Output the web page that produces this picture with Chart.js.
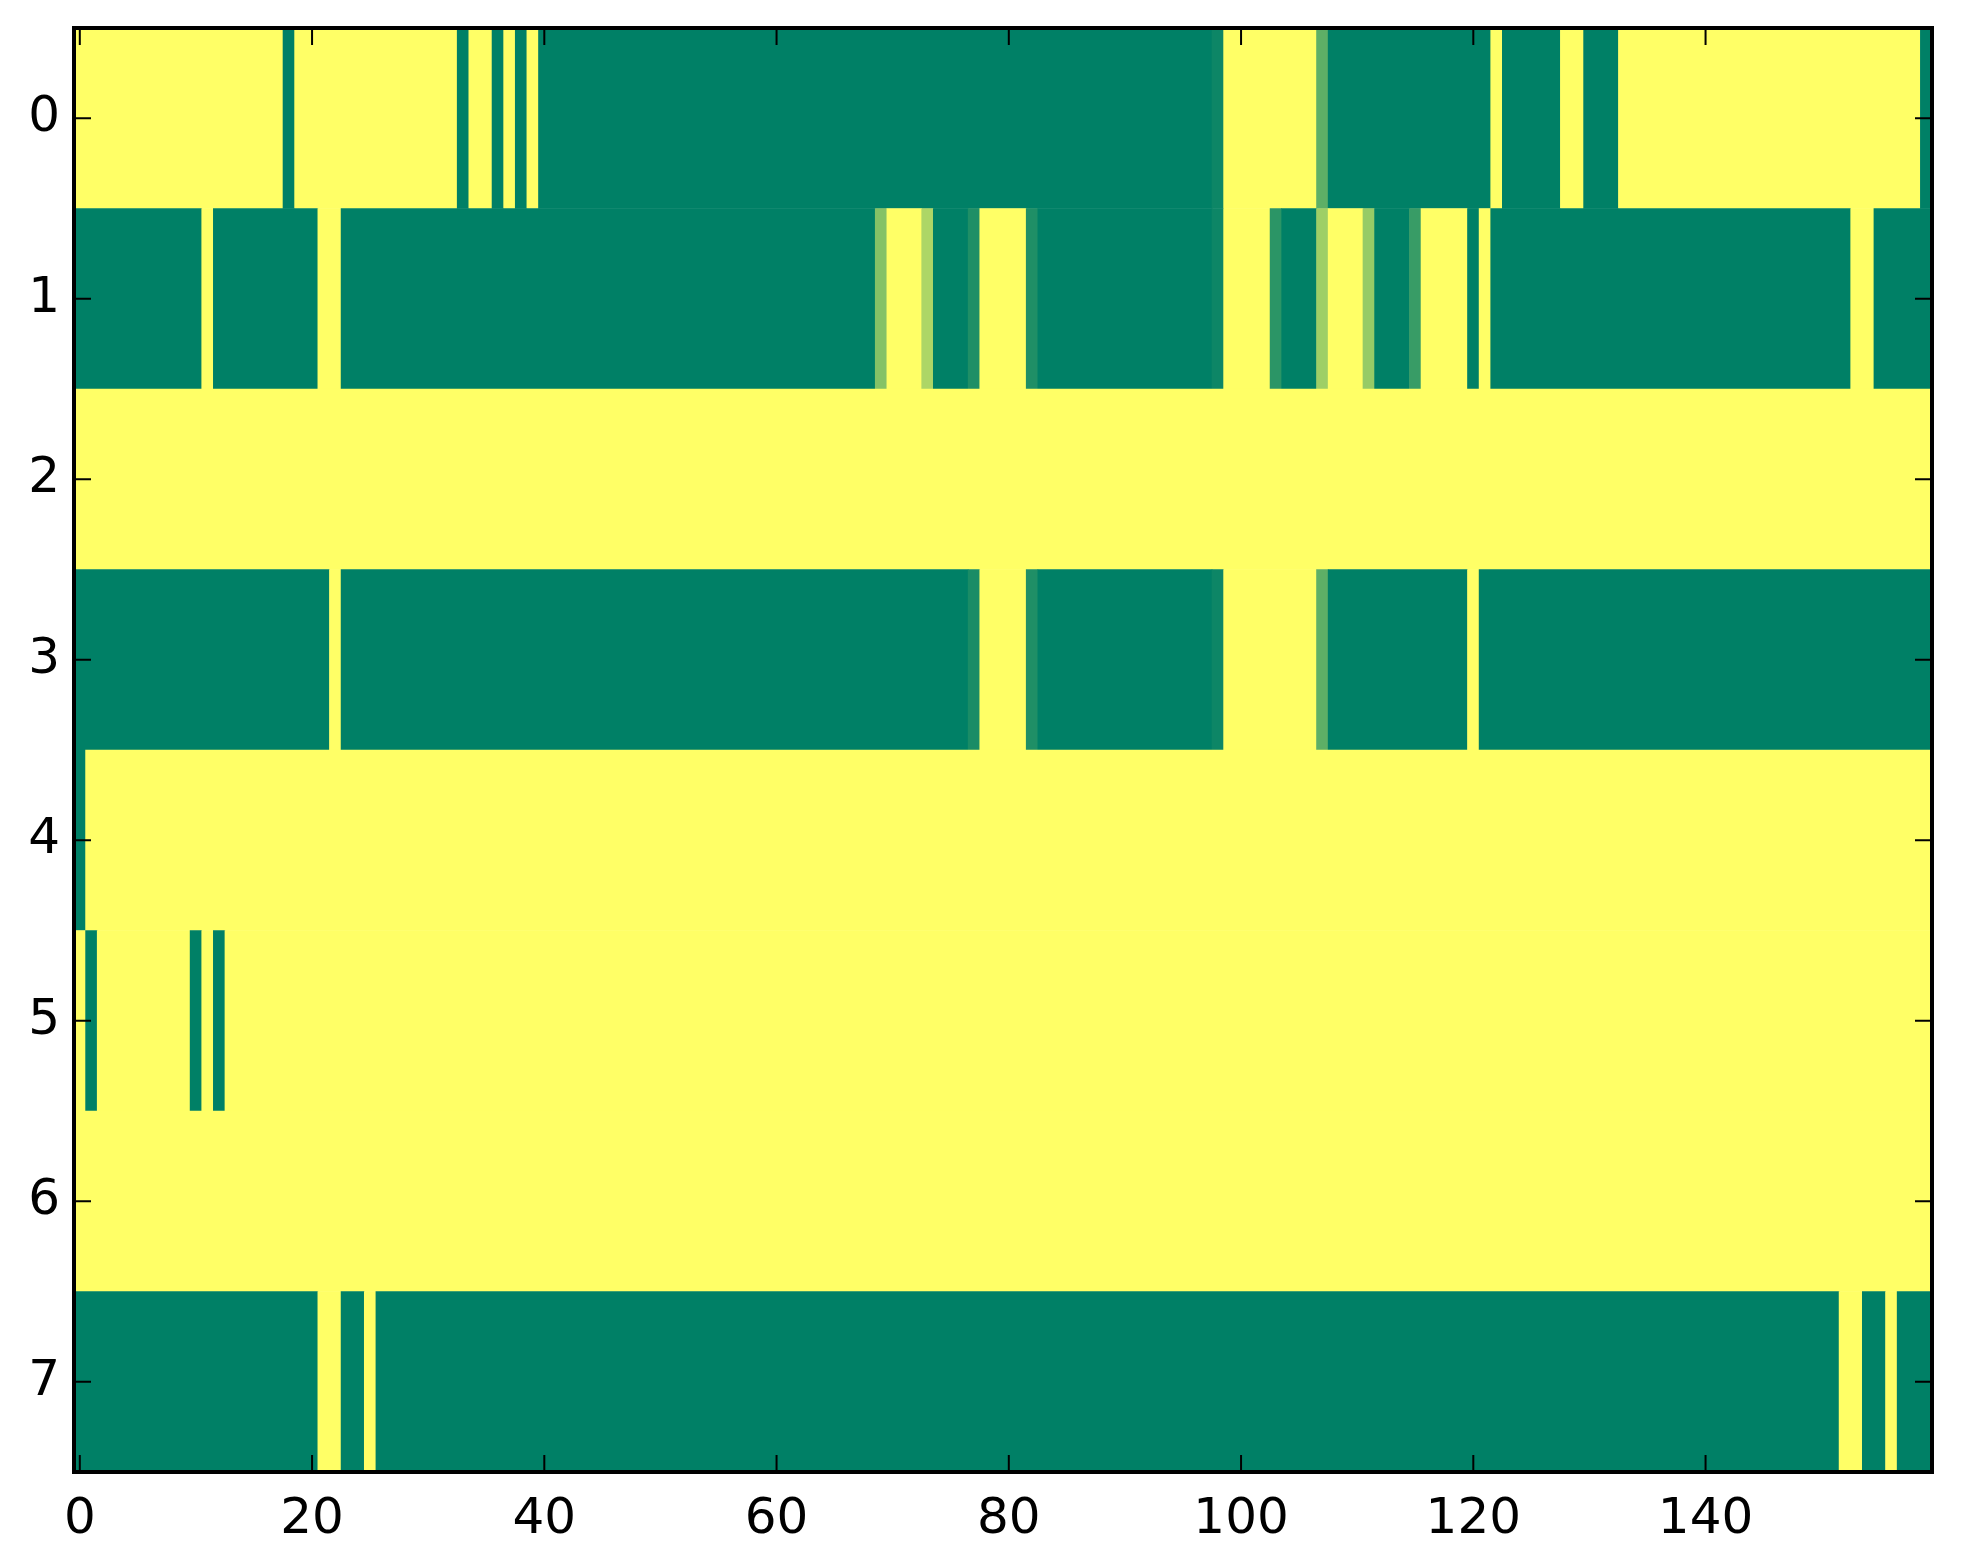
<!DOCTYPE html>
<html>
<head>
<meta charset="utf-8">
<script src="https://cdn.jsdelivr.net/npm/chart.js@4.4.1/dist/chart.umd.min.js"></script>
<style>
  html, body { margin: 0; padding: 0; background: #fff; }
  #wrap { width: 1963px; height: 1564px; }
</style>
</head>
<body>
<div id="wrap"><canvas id="heat"></canvas></div>
<script>
const rowLabels = ['0', '1', '2', '3', '4', '5', '6', '7'];
const xTicks = [0, 20, 40, 60, 80, 100, 120, 140];

// one array per row, 160 columns, 0 = green .. 1 = yellow
const row0 = [
  1,1,1,1,1,1,1,1,1,1,1,1,1,1,1,1,1,1,0,1,
  1,1,1,1,1,1,1,1,1,1,1,1,1,0,1,1,0,1,0,1,
  0,0,0,0,0,0,0,0,0,0,0,0,0,0,0,0,0,0,0,0,
  0,0,0,0,0,0,0,0,0,0,0,0,0,0,0,0,0,0,0,0,
  0,0,0,0,0,0,0,0,0,0,0,0,0,0,0,0,0,0,0.05,1,
  1,1,1,1,1,1,1,0.37,0,0,0,0,0,0,0,0,0,0,0,0,
  0,0,1,0,0,0,0,0,1,1,0,0,0,1,1,1,1,1,1,1,
  1,1,1,1,1,1,1,1,1,1,1,1,1,1,1,1,1,1,1,0
];
const row1 = [
  0,0,0,0,0,0,0,0,0,0,0,1,0,0,0,0,0,0,0,0,
  0,1,1,0,0,0,0,0,0,0,0,0,0,0,0,0,0,0,0,0,
  0,0,0,0,0,0,0,0,0,0,0,0,0,0,0,0,0,0,0,0,
  0,0,0,0,0,0,0,0,0,0.52,1,1,1,0.68,0,0,0,0.12,1,1,
  1,1,0.12,0,0,0,0,0,0,0,0,0,0,0,0,0,0,0,0.05,1,
  1,1,1,0.17,0,0,0,0.62,1,1,1,0.59,0,0,0,0.22,1,1,1,1,
  0,1,0,0,0,0,0,0,0,0,0,0,0,0,0,0,0,0,0,0,
  0,0,0,0,0,0,0,0,0,0,0,0,0,1,1,0,0,0,0,0
];
const row2 = [
  1,1,1,1,1,1,1,1,1,1,1,1,1,1,1,1,1,1,1,1,
  1,1,1,1,1,1,1,1,1,1,1,1,1,1,1,1,1,1,1,1,
  1,1,1,1,1,1,1,1,1,1,1,1,1,1,1,1,1,1,1,1,
  1,1,1,1,1,1,1,1,1,1,1,1,1,1,1,1,1,1,1,1,
  1,1,1,1,1,1,1,1,1,1,1,1,1,1,1,1,1,1,1,1,
  1,1,1,1,1,1,1,1,1,1,1,1,1,1,1,1,1,1,1,1,
  1,1,1,1,1,1,1,1,1,1,1,1,1,1,1,1,1,1,1,1,
  1,1,1,1,1,1,1,1,1,1,1,1,1,1,1,1,1,1,1,1
];
const row3 = [
  0,0,0,0,0,0,0,0,0,0,0,0,0,0,0,0,0,0,0,0,
  0,0,1,0,0,0,0,0,0,0,0,0,0,0,0,0,0,0,0,0,
  0,0,0,0,0,0,0,0,0,0,0,0,0,0,0,0,0,0,0,0,
  0,0,0,0,0,0,0,0,0,0,0,0,0,0,0,0,0,0.1,1,1,
  1,1,0.12,0,0,0,0,0,0,0,0,0,0,0,0,0,0,0,0.05,1,
  1,1,1,1,1,1,1,0.37,0,0,0,0,0,0,0,0,0,0,0,0,
  1,0,0,0,0,0,0,0,0,0,0,0,0,0,0,0,0,0,0,0,
  0,0,0,0,0,0,0,0,0,0,0,0,0,0,0,0,0,0,0,0
];
const row4 = [
  0,1,1,1,1,1,1,1,1,1,1,1,1,1,1,1,1,1,1,1,
  1,1,1,1,1,1,1,1,1,1,1,1,1,1,1,1,1,1,1,1,
  1,1,1,1,1,1,1,1,1,1,1,1,1,1,1,1,1,1,1,1,
  1,1,1,1,1,1,1,1,1,1,1,1,1,1,1,1,1,1,1,1,
  1,1,1,1,1,1,1,1,1,1,1,1,1,1,1,1,1,1,1,1,
  1,1,1,1,1,1,1,1,1,1,1,1,1,1,1,1,1,1,1,1,
  1,1,1,1,1,1,1,1,1,1,1,1,1,1,1,1,1,1,1,1,
  1,1,1,1,1,1,1,1,1,1,1,1,1,1,1,1,1,1,1,1
];
const row5 = [
  1,0,1,1,1,1,1,1,1,1,0,1,0,1,1,1,1,1,1,1,
  1,1,1,1,1,1,1,1,1,1,1,1,1,1,1,1,1,1,1,1,
  1,1,1,1,1,1,1,1,1,1,1,1,1,1,1,1,1,1,1,1,
  1,1,1,1,1,1,1,1,1,1,1,1,1,1,1,1,1,1,1,1,
  1,1,1,1,1,1,1,1,1,1,1,1,1,1,1,1,1,1,1,1,
  1,1,1,1,1,1,1,1,1,1,1,1,1,1,1,1,1,1,1,1,
  1,1,1,1,1,1,1,1,1,1,1,1,1,1,1,1,1,1,1,1,
  1,1,1,1,1,1,1,1,1,1,1,1,1,1,1,1,1,1,1,1
];
const row6 = [
  1,1,1,1,1,1,1,1,1,1,1,1,1,1,1,1,1,1,1,1,
  1,1,1,1,1,1,1,1,1,1,1,1,1,1,1,1,1,1,1,1,
  1,1,1,1,1,1,1,1,1,1,1,1,1,1,1,1,1,1,1,1,
  1,1,1,1,1,1,1,1,1,1,1,1,1,1,1,1,1,1,1,1,
  1,1,1,1,1,1,1,1,1,1,1,1,1,1,1,1,1,1,1,1,
  1,1,1,1,1,1,1,1,1,1,1,1,1,1,1,1,1,1,1,1,
  1,1,1,1,1,1,1,1,1,1,1,1,1,1,1,1,1,1,1,1,
  1,1,1,1,1,1,1,1,1,1,1,1,1,1,1,1,1,1,1,1
];
const row7 = [
  0,0,0,0,0,0,0,0,0,0,0,0,0,0,0,0,0,0,0,0,
  0,1,1,0,0,1,0,0,0,0,0,0,0,0,0,0,0,0,0,0,
  0,0,0,0,0,0,0,0,0,0,0,0,0,0,0,0,0,0,0,0,
  0,0,0,0,0,0,0,0,0,0,0,0,0,0,0,0,0,0,0,0,
  0,0,0,0,0,0,0,0,0,0,0,0,0,0,0,0,0,0,0,0,
  0,0,0,0,0,0,0,0,0,0,0,0,0,0,0,0,0,0,0,0,
  0,0,0,0,0,0,0,0,0,0,0,0,0,0,0,0,0,0,0,0,
  0,0,0,0,0,0,0,0,0,0,0,0,1,1,0,0,1,0,0,0
];
const rows = [row0, row1, row2, row3, row4, row5, row6, row7];

// matplotlib "summer" colormap
function summer(v) {
  const r = Math.round(255 * v);
  const g = Math.round(255 * (0.5 + v / 2));
  return 'rgb(' + r + ',' + g + ',102)';
}

// merge runs of equal cells into one floating bar, avoids seams between cells
const cells = [];
rows.forEach((row, r) => {
  let start = 0;
  for (let c = 1; c <= row.length; c++) {
    if (c === row.length || row[c] !== row[start]) {
      cells.push({ x: [start - 0.5, c - 0.5], y: rowLabels[r], v: row[start] });
      start = c;
    }
  }
});

// frame on all four sides with inward ticks (classic matplotlib look)
const frame = {
  id: 'frame',
  afterDraw(chart) {
    const { ctx, chartArea: a } = chart;
    const x = chart.scales.x, y = chart.scales.y;
    const len = 17;
    ctx.save();
    ctx.strokeStyle = '#000';
    ctx.lineWidth = 2;
    ctx.beginPath();
    xTicks.forEach(t => {
      const px = x.getPixelForValue(t);
      ctx.moveTo(px, a.bottom); ctx.lineTo(px, a.bottom - len);
      ctx.moveTo(px, a.top); ctx.lineTo(px, a.top + len);
    });
    y.ticks.forEach((t, i) => {
      const py = y.getPixelForTick(i);
      ctx.moveTo(a.left, py); ctx.lineTo(a.left + len, py);
      ctx.moveTo(a.right, py); ctx.lineTo(a.right - len, py);
    });
    ctx.stroke();
    ctx.lineWidth = 4;
    ctx.strokeRect(a.left, a.top, a.right - a.left, a.bottom - a.top);
    ctx.restore();
  }
};

const tickFont = { family: 'DejaVu Sans', size: 50 };

new Chart(document.getElementById('heat'), {
  type: 'bar',
  data: {
    labels: rowLabels,
    datasets: [{
      data: cells,
      backgroundColor: ctx => summer(ctx.raw.v),
      borderWidth: 0,
      grouped: false,
      categoryPercentage: 1,
      barPercentage: 1
    }]
  },
  options: {
    indexAxis: 'y',
    responsive: true,
    maintainAspectRatio: false,
    animation: false,
    layout: { padding: { top: 28, right: 31, bottom: 0, left: 0 } },
    plugins: {
      legend: { display: false },
      tooltip: { enabled: false }
    },
    scales: {
      x: {
        type: 'linear',
        min: -0.5,
        max: 159.5,
        afterBuildTicks: s => { s.ticks = xTicks.map(v => ({ value: v })); },
        afterFit: s => { s.height = 92; s.paddingLeft = 0; s.paddingRight = 0; },
        grid: { display: false },
        border: { display: false },
        ticks: { color: '#000', font: tickFont, padding: 10, maxRotation: 0, autoSkip: false }
      },
      y: {
        type: 'category',
        afterFit: s => { s.width = 74; s.paddingTop = 0; s.paddingBottom = 0; },
        grid: { display: false },
        border: { display: false },
        ticks: { color: '#000', font: tickFont, padding: 6 }
      }
    }
  },
  plugins: [frame]
});
</script>
</body>
</html>
